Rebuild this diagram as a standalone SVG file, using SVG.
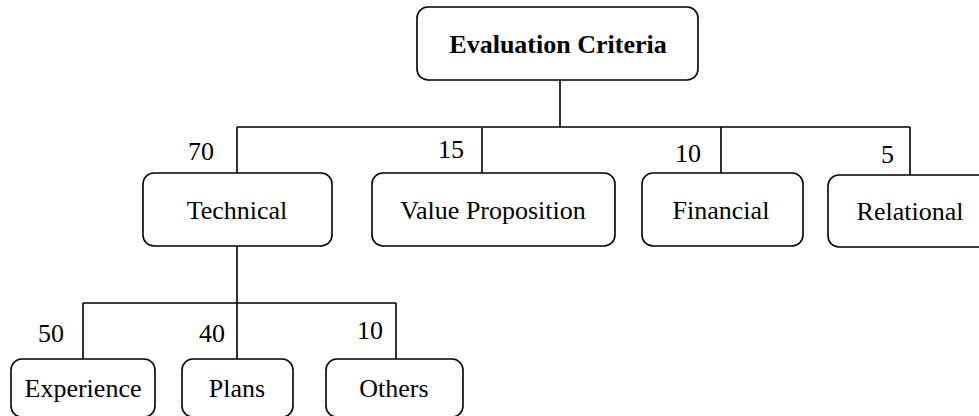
<svg xmlns="http://www.w3.org/2000/svg" width="979" height="416" viewBox="0 0 979 416">
<style>
.box{fill:#fff;stroke:#000;stroke-width:1.6}
.t{font-family:"Liberation Serif","Times New Roman",serif;font-size:26px;fill:#000;text-anchor:middle}
.b{font-weight:bold}
.lbl{font-family:"Liberation Serif","Times New Roman",serif;font-size:26px;fill:#000;text-anchor:end}
.c{fill:none;stroke:#000;stroke-width:1.6}
</style>
<rect width="979" height="416" fill="#fff"/>
<g id="connectors">
<path class="c" d="M560 80V127M237 127H910M237 127V173M482 128V173M721 127V173M910 127V175"/>
<path class="c" d="M237 246V303M83 303H396M83 303V359M237 303V359M396 303V359"/>
</g>
<g id="labels">
<text class="lbl" x="214" y="160">70</text>
<text class="lbl" x="464" y="158">15</text>
<text class="lbl" x="701" y="162">10</text>
<text class="lbl" x="894" y="163">5</text>
<text class="lbl" x="64" y="342">50</text>
<text class="lbl" x="225" y="342">40</text>
<text class="lbl" x="383" y="339">10</text>
</g>
<g id="root"><rect class="box" x="417" y="7" width="281" height="73" rx="11"/><text class="t b" x="558" y="53">Evaluation Criteria</text></g>
<g id="technical"><rect class="box" x="143" y="173" width="189" height="73" rx="11"/><text class="t" x="237" y="219">Technical</text></g>
<g id="value"><rect class="box" x="372" y="173" width="243" height="73" rx="11"/><text class="t" x="493" y="219">Value Proposition</text></g>
<g id="financial"><rect class="box" x="642" y="173" width="161" height="73" rx="11"/><text class="t" x="721" y="219">Financial</text></g>
<g id="relational"><rect class="box" x="828" y="175" width="170" height="72" rx="11"/><text class="t" x="910" y="220">Relational</text></g>
<g id="experience"><rect class="box" x="11" y="359" width="144" height="58" rx="11"/><text class="t" x="83" y="397">Experience</text></g>
<g id="plans"><rect class="box" x="182" y="359" width="111" height="58" rx="11"/><text class="t" x="237" y="397">Plans</text></g>
<g id="others"><rect class="box" x="326" y="359" width="137" height="58" rx="11"/><text class="t" x="394" y="397">Others</text></g>
</svg>
